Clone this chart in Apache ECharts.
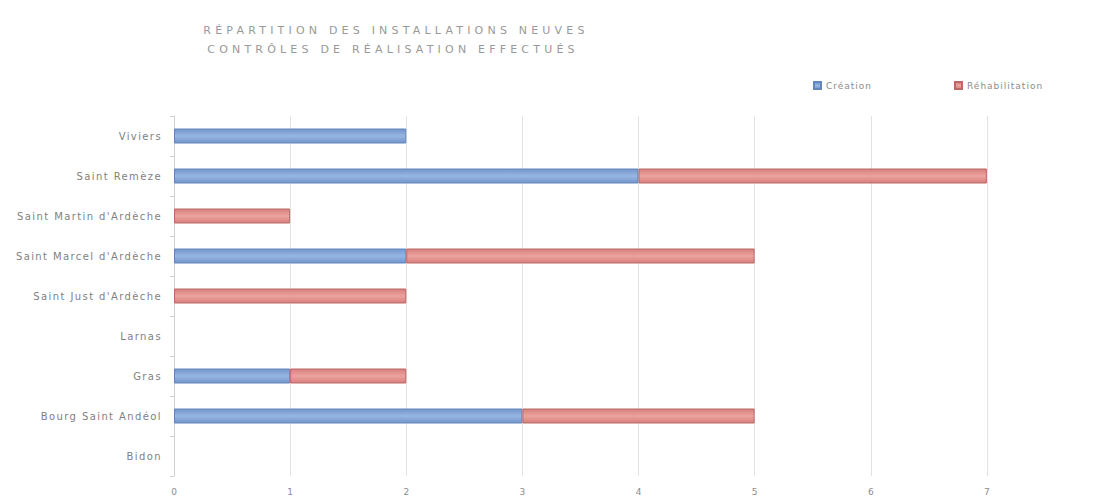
<!DOCTYPE html>
<html>
<head>
<meta charset="utf-8">
<script src="https://cdn.jsdelivr.net/npm/echarts@6/dist/echarts.min.js"></script>
<style>
  html, body { margin: 0; padding: 0; background: #fff; }
  #chart { width: 1098px; height: 504px; }
</style>
</head>
<body>
<div id="chart"></div>
<script>
// Communes, listed top to bottom
const communes = [
  "Viviers",
  "Saint Remèze",
  "Saint Martin d'Ardèche",
  "Saint Marcel d'Ardèche",
  "Saint Just d'Ardèche",
  "Larnas",
  "Gras",
  "Bourg Saint Andéol",
  "Bidon"
];
// Number of checks per commune
const creation =       [2, 4, 0, 2, 0, 0, 1, 3, 0];
const rehabilitation = [0, 3, 1, 3, 2, 0, 1, 2, 0];
const xTicks = [0, 1, 2, 3, 4, 5, 6, 7, 8];

const titleLines = ["RÉPARTITION DES INSTALLATIONS NEUVES", "CONTRÔLES DE RÉALISATION EFFECTUÉS"];
const legendNames = ["Création", "Réhabilitation"];

// empty segments are left out instead of drawn as a hairline
const segment = v => (v === 0 ? '-' : v);

function barFill(edge, mid) {
  return new echarts.graphic.LinearGradient(0, 0, 0, 1, [
    { offset: 0, color: edge },
    { offset: 0.5, color: mid },
    { offset: 1, color: edge }
  ]);
}

const el = document.getElementById('chart');
const chart = echarts.init(el, null, { renderer: 'svg' });
const font = "'DejaVu Sans', 'Noto Sans', sans-serif";

chart.setOption({
  animation: false,
  backgroundColor: '#ffffff',
  title: [
    {
      text: titleLines[0],
      left: 391,
      top: 20,
      textAlign: 'center',
      textStyle: { fontFamily: font, fontSize: 11, fontWeight: 'normal', color: '#999999' }
    },
    {
      text: titleLines[1],
      left: 388,
      top: 39,
      textAlign: 'center',
      textStyle: { fontFamily: font, fontSize: 11, fontWeight: 'normal', color: '#999999' }
    }
  ],
  legend: [
    {
      data: [legendNames[0]],
      left: 808,
      top: 76,
      icon: 'rect',
      itemWidth: 7,
      itemHeight: 7,
      itemGap: 5,
      textStyle: { fontFamily: font, fontSize: 9, color: '#8c8c8c' }
    },
    {
      data: [legendNames[1]],
      left: 949,
      top: 76,
      icon: 'rect',
      itemWidth: 7,
      itemHeight: 7,
      itemGap: 5,
      textStyle: { fontFamily: font, fontSize: 9, color: '#8c8c8c' }
    }
  ],
  grid: {
    left: 174,
    width: 929,
    top: 116,
    height: 360,
    containLabel: false,
    outerBoundsMode: 'none'
  },
  xAxis: {
    type: 'value',
    min: xTicks[0],
    max: xTicks[xTicks.length - 1],
    interval: 1,
    axisLine: { show: false },
    axisTick: { show: false },
    splitLine: { show: true, lineStyle: { color: '#e3e3e3', width: 1 } },
    axisLabel: {
      fontFamily: font,
      fontSize: 9,
      color: '#8c8c8c',
      margin: 11,
      showMaxLabel: false
    }
  },
  yAxis: {
    type: 'category',
    data: communes,
    inverse: true,
    axisLine: { show: true, lineStyle: { color: '#cfcfcf' } },
    axisTick: { show: true, length: 4, lineStyle: { color: '#cfcfcf' } },
    axisLabel: {
      fontFamily: font,
      fontSize: 10,
      color: '#7f7f7f',
      margin: 12
    }
  },
  series: [
    {
      name: legendNames[0],
      type: 'bar',
      stack: 'total',
      barWidth: 15,
      data: creation.map(segment),
      itemStyle: {
        color: barFill('#7395cb', '#97b6e2'),
        borderColor: '#6386bb',
        borderWidth: 1
      }
    },
    {
      name: legendNames[1],
      type: 'bar',
      stack: 'total',
      barWidth: 15,
      data: rehabilitation.map(segment),
      itemStyle: {
        color: barFill('#d47f7d', '#eda2a0'),
        borderColor: '#bd6866',
        borderWidth: 1
      }
    }
  ]
});

// Tracking (letter spacing) for the spaced-out typography
el.querySelectorAll('svg text').forEach(t => {
  const s = t.textContent;
  if (titleLines.includes(s)) t.style.letterSpacing = '4.2px';
  else if (communes.includes(s)) t.style.letterSpacing = '1.4px';
  else if (legendNames.includes(s)) t.style.letterSpacing = '1px';
});
</script>
</body>
</html>
